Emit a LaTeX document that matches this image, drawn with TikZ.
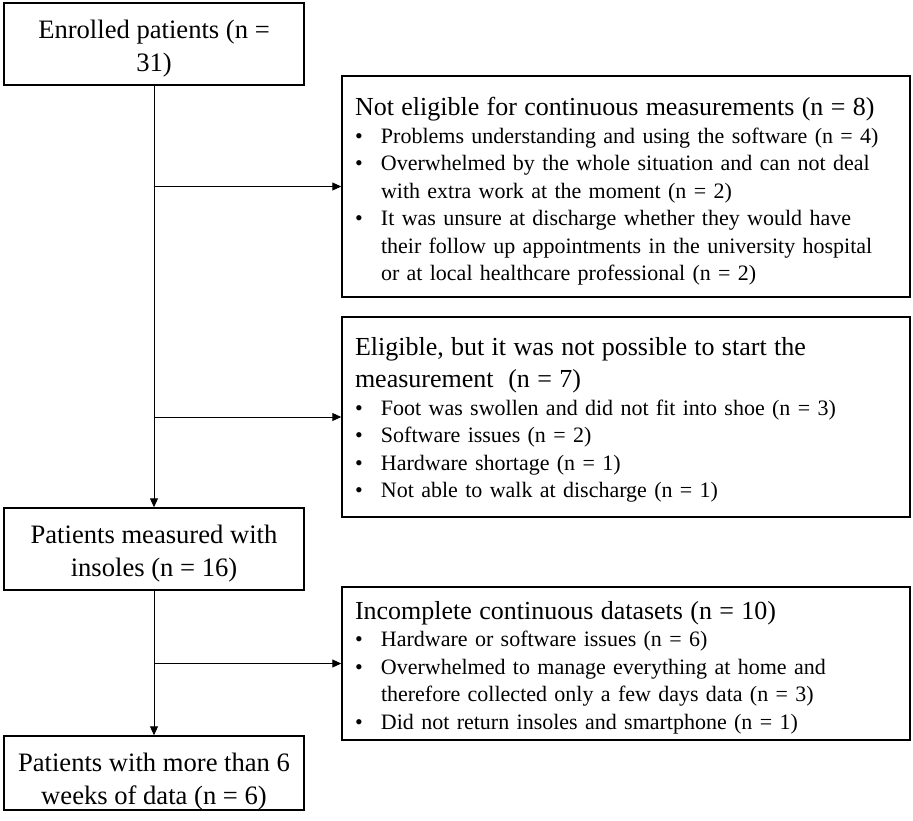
\documentclass[tikz,border=0pt]{standalone}
\usepackage{xcolor}
\usepackage{fontspec}
\setmainfont{Liberation Serif}
\usetikzlibrary{shapes,arrows.meta,positioning}

\newcommand{\bul}{\makebox[26pt][l]{\textbullet}}
\newcommand{\ind}{\hspace*{26pt}}
\newcommand{\boxhead}[2][18pt]{{\fontsize{26}{32}\selectfont\rule{0pt}{#1}#2\par}}

\begin{document}
\begin{tikzpicture}[x=1pt, y=-1pt, >={Triangle[length=9pt,width=8pt]},
    mainbox/.style={rectangle, draw, line width=1.5pt, minimum width=300pt, inner ysep=0pt, align=center, font=\fontsize{26.6}{33}\selectfont},
    sidebox/.style={rectangle, draw, line width=1.5pt, text width=560pt, inner xsep=4pt, align=left, font=\fontsize{22}{27.5}\selectfont},
    flow/.style={->, line width=1pt}]
    \useasboundingbox (0,0) rectangle (913,821);

    \node (enrolled) [mainbox, minimum height=82pt] at (154,44) {\rule{0pt}{27pt}Enrolled patients (n =\\ 31)};
    \node (measured) [mainbox, minimum height=82pt] at (154,549) {\rule{0pt}{27pt}Patients measured with\\ insoles (n = 16)};
    \node (final) [mainbox, minimum height=74pt] at (154,773) {\rule{0pt}{35pt}Patients with more than 6\\ weeks of data (n = 6)};

    \node (noteligible) [sidebox, minimum height=221pt] at (626,186.5) {\leftskip=9pt
        \boxhead[28.5pt]{Not eligible for continuous measurements (n = 8)}
        \bul Problems understanding and using the software (n = 4)\\
        \bul Overwhelmed by the whole situation and can not deal\\
        \ind with extra work at the moment (n = 2)\\
        \bul It was unsure at discharge whether they would have\\
        \ind their follow up appointments in the university hospital\\
        \ind or at local healthcare professional (n = 2)\par};
    \node (eligible) [sidebox, minimum height=200pt] at (626,417) {\leftskip=9pt
        \boxhead[24.5pt]{Eligible, but it was not possible to start the\\ measurement\ \ (n = 7)}
        \bul Foot was swollen and did not fit into shoe (n = 3)\\
        \bul Software issues (n = 2)\\
        \bul Hardware shortage (n = 1)\\
        \bul Not able to walk at discharge (n = 1)\par};
    \node (incomplete) [sidebox, minimum height=153pt] at (626,663.5) {\leftskip=9pt
        \boxhead[26.5pt]{Incomplete continuous datasets (n = 10)}
        \bul Hardware or software issues (n = 6)\\
        \bul Overwhelmed to manage everything at home and\\
        \ind therefore collected only a few days data (n = 3)\\
        \bul Did not return insoles and smartphone (n = 1)\par};

    % branch points on the main line
    \coordinate (split1) at (enrolled.south |- noteligible.west);
    \coordinate (split2) at (enrolled.south |- eligible.west);
    \coordinate (split3) at (measured.south |- incomplete.west);

    \draw[flow] (enrolled) -- (measured);
    \draw[flow] (measured) -- (final);
    \draw[flow] (split1) -- (noteligible);
    \draw[flow] (split2) -- (eligible);
    \draw[flow] (split3) -- (incomplete);
\end{tikzpicture}
\end{document}
